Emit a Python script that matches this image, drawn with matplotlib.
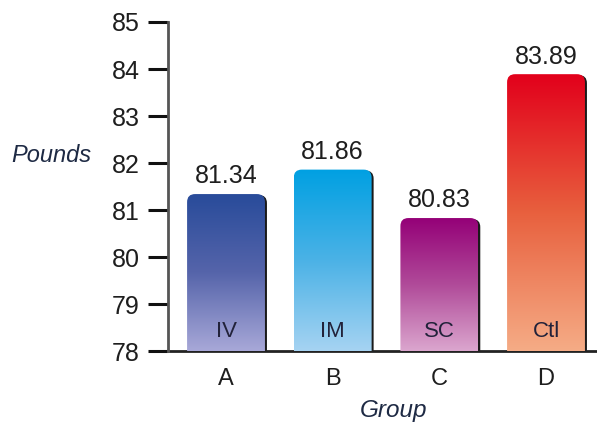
import numpy as np
import matplotlib.pyplot as plt
import matplotlib.transforms as mtransforms
from matplotlib.colors import LinearSegmentedColormap
from matplotlib.patches import FancyBboxPatch

plt.rcParams['font.family'] = ['Liberation Sans', 'DejaVu Sans']

groups = ['A', 'B', 'C', 'D']
routes = ['IV', 'IM', 'SC', 'Ctl']
pounds = [81.34, 81.86, 80.83, 83.89]
y_ticks = [78, 79, 80, 81, 82, 83, 84, 85]

# top -> bottom colour stops for each bar
bar_colors = [
    ['#284b9a', '#5564aa', '#a8a8d8'],
    ['#00a0e2', '#4bb2e6', '#a6d3f2'],
    ['#940077', '#b04a99', '#dba6ce'],
    ['#e2001b', '#e8603e', '#f5ac86'],
]

fig = plt.figure(figsize=(5.97, 4.23), dpi=100)
ax = fig.add_axes([0.2814, 0.170, 0.7186, 0.778])

x = np.arange(len(groups))
width = 0.73
base = 78
ax.set_xlim(-0.544, 3.478)
ax.set_ylim(78, 85)

# aspect between x and y data units in pixels so corners look round
px_x = 0.7186 * 597 / (3.478 + 0.544)
px_y = 0.778 * 423 / 7
aspect = px_x / px_y
radius = 8 / px_x

shadow_tr = mtransforms.offset_copy(ax.transData, fig=fig, x=2, y=-1, units='dots')

for xi, val, label, cols in zip(x, pounds, routes, bar_colors):
    x0 = xi - width / 2
    h = val - base + 0.5
    shadow = FancyBboxPatch((x0, base - 0.5), width, h,
                            boxstyle=f'round,pad=0,rounding_size={radius}',
                            mutation_aspect=aspect, fc='#1a1a1a', ec='none',
                            transform=shadow_tr, zorder=2, clip_on=True)
    ax.add_patch(shadow)
    shape = FancyBboxPatch((x0, base - 0.5), width, h,
                           boxstyle=f'round,pad=0,rounding_size={radius}',
                           mutation_aspect=aspect, fc='none', ec='none', zorder=3)
    ax.add_patch(shape)
    cmap = LinearSegmentedColormap.from_list('g', cols[::-1])
    grad = np.linspace(0, 1, 256).reshape(-1, 1)
    im = ax.imshow(grad, cmap=cmap, aspect='auto', origin='lower',
                   extent=[x0, x0 + width, base, val], zorder=3,
                   interpolation='bilinear')
    im.set_clip_path(shape)
    ax.text(xi, val + 0.12, f'{val:.2f}', ha='center', va='bottom',
            fontsize=18, color='#1e1e1e', zorder=5)
    ax.text(xi, base + 0.2, label, ha='center', va='bottom',
            fontsize=16, color='#22223a', zorder=5)

ax.set_xticks(x)
ax.set_xticklabels(groups, fontsize=17, color='#1e1e1e')
ax.tick_params(axis='x', length=0, pad=12)
ax.set_yticks(y_ticks)
ax.tick_params(axis='y', length=14.5, width=2.2, pad=6, labelsize=18,
               color='#111111', labelcolor='#1e1e1e')

for side in ['top', 'right']:
    ax.spines[side].set_visible(False)
ax.spines['left'].set_linewidth(2)
ax.spines['left'].set_color('#555555')
ax.spines['bottom'].set_linewidth(2)
ax.spines['bottom'].set_color('#222222')
ax.spines['left'].set_zorder(4)

fig.text(51 / 597, 1 - 156 / 423, 'Pounds', ha='center', va='center',
         fontsize=17, style='italic', color='#1e2a44')
fig.text(394 / 597, 1 - 410 / 423, 'Group', ha='center', va='center',
         fontsize=17.5, style='italic', color='#1e2a44')

fig.savefig('out.png', dpi=100)
